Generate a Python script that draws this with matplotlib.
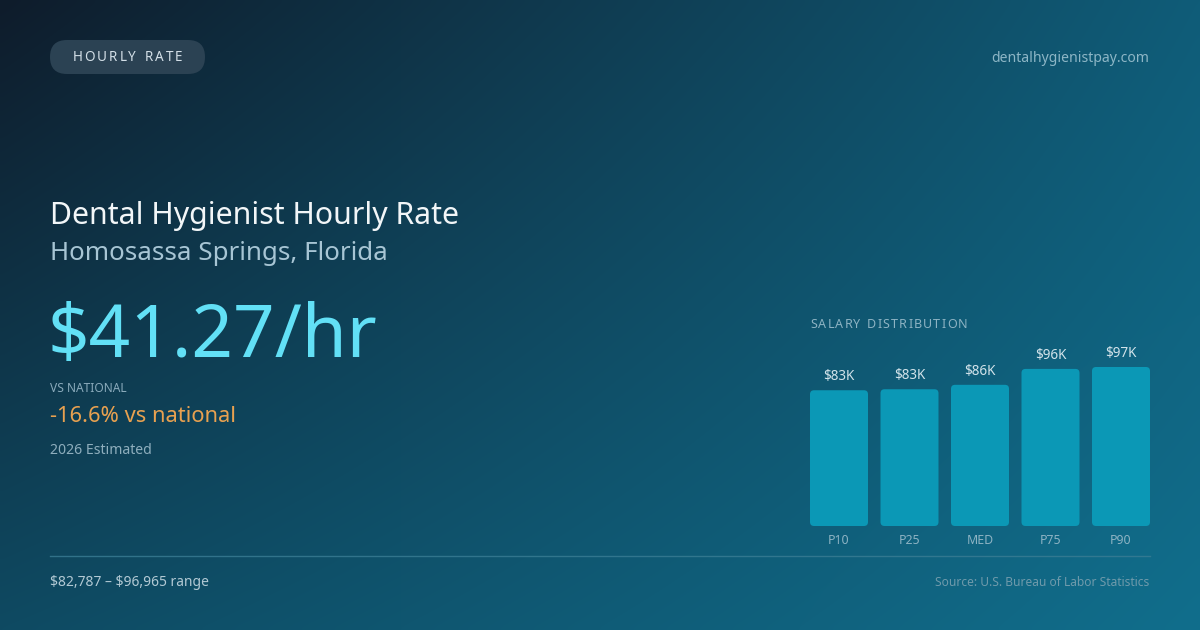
import numpy as np
import matplotlib
matplotlib.use("Agg")
import matplotlib.pyplot as plt
from matplotlib.patches import FancyBboxPatch
from matplotlib.colors import to_rgb

plt.rcParams["font.family"] = ["Noto Sans", "DejaVu Sans"]

# data
labels = ["P10", "P25", "MED", "P75", "P90"]
values = [82787, 83400, 86100, 95800, 96965]
low, high = 82787, 96965
hourly = "$41.27/hr"
vs_national = "-16.6% vs national"

W, H = 1200, 630
fig = plt.figure(figsize=(12, 6.3), dpi=100)

# background gradient (bilinear between the four corners)
bg = fig.add_axes([0, 0, 1, 1])
bg.set_xlim(0, W)
bg.set_ylim(H, 0)
bg.axis("off")
tl, tr = np.array(to_rgb("#0f1c2b")), np.array(to_rgb("#0f5c78"))
bl, br = np.array(to_rgb("#0e4a62")), np.array(to_rgb("#116e8c"))
u = np.linspace(0, 1, 240)[None, :, None]
v = np.linspace(0, 1, 126)[:, None, None]
img = (1 - v) * ((1 - u) * tl + u * tr) + v * ((1 - u) * bl + u * br)
bg.imshow(img, extent=[0, W, H, 0], aspect="auto", interpolation="bicubic", zorder=0)


def px(s):
    return s * 0.72


def spaced(ax, x, y, text, size, color, spacing, ha="left"):
    # draw text with extra letter spacing, char by char
    r = fig.canvas.get_renderer()
    widths = []
    for ch in text:
        t = ax.text(0, 0, ch if ch != " " else "n", fontsize=size)
        bb = t.get_window_extent(renderer=r)
        widths.append(bb.width * (0.55 if ch == " " else 1.0))
        t.remove()
    total = sum(widths) + spacing * (len(text) - 1)
    cx = x - total / 2 if ha == "center" else x
    for ch, w in zip(text, widths):
        ax.text(cx, y, ch, fontsize=size, color=color, va="center", ha="left")
        cx += w + spacing


# pill
bg.add_patch(FancyBboxPatch((50, 40), 155, 34, boxstyle="round,pad=0,rounding_size=17",
                            fc="#2b4253", ec="none", zorder=1))
spaced(bg, 127.5, 57.5, "HOURLY RATE", px(13.5), "#d3dfe7", 2.0, ha="center")

bg.text(1149, 58, "dentalhygienistpay.com", fontsize=px(14), color="#8db6c6",
        ha="right", va="center")

# headings
bg.text(50, 224, "Dental Hygienist Hourly Rate", fontsize=px(30.2), color="#f2f6f8",
        ha="left", va="baseline")
bg.text(50, 260, "Homosassa Springs, Florida", fontsize=px(25.9), color="#a7c5d4",
        ha="left", va="baseline")
bg.text(48, 357, hourly, fontsize=px(72.8), color="#62e0f6", ha="left", va="baseline",
        parse_math=False)
bg.text(50, 392, "VS NATIONAL", fontsize=px(12), color="#8aaabb", ha="left", va="baseline")
bg.text(50, 421.5, vs_national, fontsize=px(21.9), color="#e8a150", ha="left", va="baseline")
bg.text(50, 454.5, "2026 Estimated", fontsize=px(14.1), color="#8eaebd", ha="left", va="baseline")

# footer
bg.plot([50, 1150], [556, 556], color="#3a7d94", lw=1, alpha=0.8)
bg.text(50, 586, f"${low:,} \u2013 ${high:,} range", fontsize=px(13.9), color="#b2c9d4",
        ha="left", va="baseline", parse_math=False)
bg.text(1149, 586, "Source: U.S. Bureau of Labor Statistics", fontsize=px(12),
        color="#6f9aab", ha="right", va="baseline")

spaced(bg, 810, 325, "SALARY DISTRIBUTION", px(12.5), "#8db3c3", 1.2)

# bar chart
x0, x1, ytop, ybot = 810, 1150, 367, 526
step = (x1 - x0 - 58) / (len(values) - 1)
bw = 58 / step
ax = fig.add_axes([x0 / W, 1 - ybot / H, (x1 - x0) / W, (ybot - ytop) / H])
ax.set_xlim(-bw / 2, len(values) - 1 + bw / 2)
ax.set_ylim(0, max(values))
ax.axis("off")
ax.patch.set_alpha(0)

xunit = 1 / step
yunit = max(values) / (ybot - ytop)
bars = ax.bar(range(len(values)), values, width=bw, color="none")
for b, val, lab in zip(bars, values, labels):
    ax.add_patch(FancyBboxPatch((b.get_x(), 0), b.get_width(), b.get_height(),
                                boxstyle=f"round,pad=0,rounding_size={4 * xunit}",
                                mutation_aspect=yunit / xunit,
                                fc="#0b98b6", ec="none", clip_on=False))
    ax.annotate(f"${round(val / 1000)}K", (b.get_x() + b.get_width() / 2, val),
                xytext=(0, 4.5), textcoords="offset points", ha="center", va="bottom",
                fontsize=px(13.5), color="#d2e3ea", annotation_clip=False,
                parse_math=False)
    ax.annotate(lab, (b.get_x() + b.get_width() / 2, 0), xytext=(0, -6),
                textcoords="offset points", ha="center", va="top",
                fontsize=px(12.3), color="#8db3c3", annotation_clip=False)

fig.savefig("out.png", dpi=100)
